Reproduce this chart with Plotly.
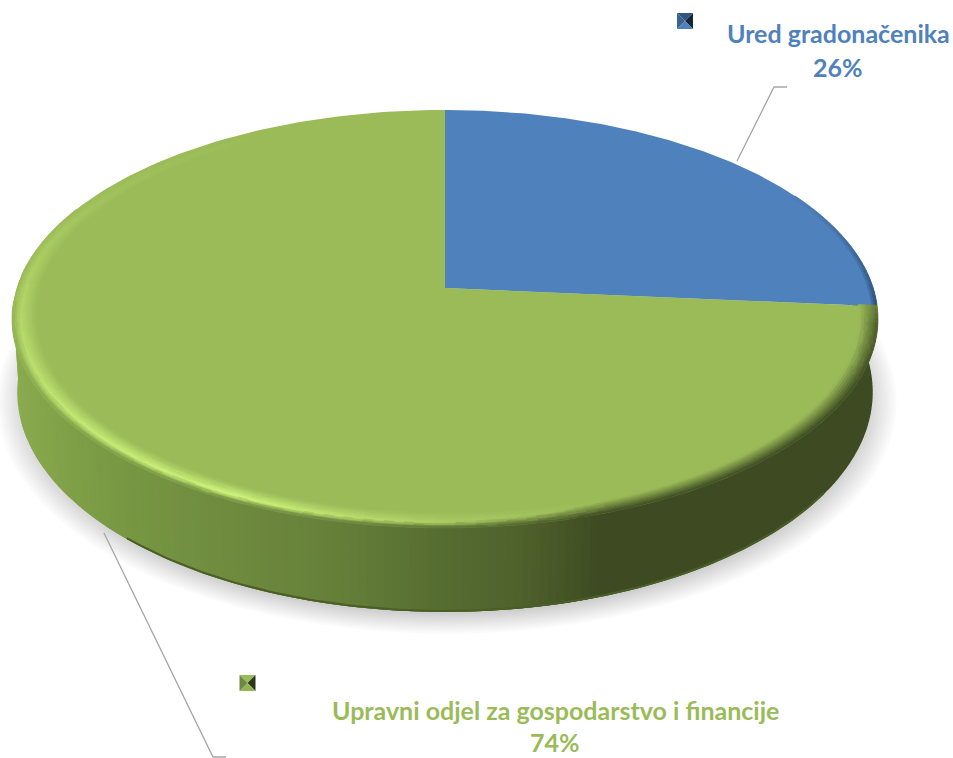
import numpy as np
import plotly.graph_objects as go

categories = ["Ured gradonačenika", "Upravni odjel za gospodarstvo i financije"]
values = [26.4, 73.6]
colors = ["#4f81bd", "#9bbb59"]

W, H = 953, 758
CX, CY = 445.0, 288.0
K, A, B = -0.1483, 204.4, 428.2
DEPTH = 71.5
RING = 0.945


def proj(r, th):
    u = r * np.sin(th)
    v = -r * np.cos(th)
    s = 1.0 / (1.0 + K * v)
    return CX + B * u * s, CY + A * v * s


def proj_bottom(r, th):
    x, y = proj(r, th)
    v = -r * np.cos(th)
    return CX + (x - CX) * 0.988, y + DEPTH / (1.0 + K * v)


def rgb(c):
    c = c.lstrip("#")
    return np.array([int(c[i:i + 2], 16) for i in (0, 2, 4)], float)


def lerp(a, b, t):
    return a + (b - a) * t


def css(c):
    c = np.round(np.clip(c, 0, 255))
    return "#%02x%02x%02x" % tuple(int(q) for q in c)


side_x = [0, 15, 100, 220, 340, 450, 520, 600, 953]
side_c = [rgb(c) for c in ["#8aaa4e", "#8aaa4e", "#7a9a44", "#6f8c3f", "#657f39", "#556b30", "#4f622c", "#3e4b22", "#3e4b22"]]


def side_color(x):
    return np.array([np.interp(x, side_x, [c[i] for c in side_c]) for i in range(3)])


groups = {}


def add_poly(col, xs, ys):
    g = groups.setdefault(col, ([], []))
    g[0].extend(list(xs) + [xs[0], None])
    g[1].extend(list(ys) + [ys[0], None])


fig = go.Figure()


def poly_trace(xs, ys, fill, line=None, lw=0.0):
    fig.add_trace(go.Scatter(x=xs, y=ys, mode="lines", fill="toself", fillcolor=fill,
                             line=dict(color=line or fill, width=lw), hoverinfo="skip", showlegend=False))


def flush(lw=0.7):
    for col, (xs, ys) in groups.items():
        poly_trace(xs, ys, col, col, lw)
    groups.clear()


# drop shadow below the disc
full = np.linspace(0, 2 * np.pi, 361)
for sc in np.linspace(1.05, 0.985, 12):
    x, y = proj_bottom(sc, full)
    poly_trace(list(x + 2), list(y + 7), "rgba(0,0,0,0.016)")

# outer wall: every slice overlaps the next so that no seam shows
n = 200
edges = np.radians(np.linspace(80, 280, n + 1))
for i in range(n):
    a = edges[i]
    b = edges[min(i + 3, n)]
    xa, ya = proj(1, a)
    xb, yb = proj(1, b)
    xc, yc = proj_bottom(1, b)
    xd, yd = proj_bottom(1, a)
    xm, _ = proj(1, (edges[i] + edges[i + 1]) / 2)
    add_poly(css(side_color(xm)), [xa, xb, xc, xd], [ya, yb, yc, yd])
flush(0)

# dark lower lip of the wall
th = np.radians(np.linspace(125, 222, 120))
xo, yo = proj_bottom(1, th)
fig.add_trace(go.Scatter(x=list(xo), y=list(yo - 1.0), mode="lines", line=dict(color="#4a5e26", width=2),
                         hoverinfo="skip", showlegend=False))

# top face, split by the shares
share = np.cumsum([0] + values) / sum(values) * 2 * np.pi
for i, col in enumerate(colors):
    th = np.linspace(share[i], share[i + 1], 240)
    x, y = proj(1, th)
    poly_trace([CX] + list(x), [CY] + list(y), col)

# bevelled rim
hl = rgb("#cdf27a")
i_th = [0, 160, 180, 205, 235, 270, 300, 330, 360]
i_v = [0, 0, 0.3, 1.0, 0.8, 0.42, 0.12, 0.02, 0]
o_th = [0, 84, 100, 115, 250, 268, 280, 360]
o_v = [0, 0, 0.85, 1, 1, 0.25, 0, 0]
b_th = [0, 60, 85, 96, 360]
b_v = [0, 0, 0.5, 0.75, 0.75]
navy = rgb("#1c3556")
green = rgb(colors[1])
blue = rgb(colors[0])
m_a, m_r = 300, 9
angs = np.linspace(0, 360, m_a + 1)
rs = np.linspace(RING, 1.0, m_r + 1)
for a0, a1 in zip(angs[:-1], angs[1:]):
    mid = (a0 + a1) / 2
    in_blue = np.radians(mid) < share[1]
    base = blue if in_blue else green
    I = 0.0 if in_blue else np.interp(mid, i_th, i_v)
    hi = lerp(base, hl, I)
    peak = 0.72 if in_blue else 0.25 + 0.37 * min(1.0, I / 0.3)
    xm, _ = proj(1, np.radians(mid))
    if in_blue:
        outer = lerp(base, navy, np.interp(mid, b_th, b_v))
    else:
        outer = lerp(base, side_color(xm), np.interp(mid, o_th, o_v))
    for j in range(m_r):
        t = (j + 0.5) / m_r
        c = lerp(base, hi, t / peak) if t < peak else lerp(hi, outer, (t - peak) / (1 - peak))
        if np.allclose(c, base, atol=1.0):
            continue
        ra, rb = rs[j], rs[j + 1]
        aa, ab = np.radians(a0), np.radians(a1)
        x1, y1 = proj(ra, aa)
        x2, y2 = proj(ra, ab)
        x3, y3 = proj(rb, ab)
        x4, y4 = proj(rb, aa)
        add_poly(css(np.round(c / 2) * 2), [x1, x2, x3, x4], [y1, y2, y3, y4])
flush()

# leader lines
leaders = [([737, 774, 787], [161, 87, 87]), ([104, 213, 226], [533, 757, 757])]
for lx, ly in leaders:
    fig.add_trace(go.Scatter(x=lx, y=ly, mode="lines", line=dict(color="#a6a6a6", width=1.3),
                             hoverinfo="skip", showlegend=False))


# pyramid legend keys
def key(x0, y0, s, tones):
    mx, my = x0 + s / 2, y0 + s / 2
    corners = [(x0, y0), (x0 + s, y0), (x0 + s, y0 + s), (x0, y0 + s)]
    for k, tone in enumerate(tones):
        p, q = corners[k], corners[(k + 1) % 4]
        poly_trace([p[0], q[0], mx], [p[1], q[1], my], tone)


key(677, 13, 16, ["#335680", "#14263a", "#4f81bd", "#3a6292"])
key(239.5, 675, 16, ["#9bbb59", "#2a3619", "#93b354", "#6c8740"])

# labels
total = sum(values)
labels = [
    (categories[0], "%.0f%%" % (values[0] / total * 100), 838, 33, 67, colors[0]),
    (categories[1], "%.0f%%" % (values[1] / total * 100), 555, 710, 742, colors[1]),
]
ann = []
for name, pct, x, y1, y2, col in labels:
    for txt, yy in ((name, y1), (pct, y2)):
        ann.append(dict(x=x, y=yy, text="<b>%s</b>" % txt, showarrow=False, xanchor="center", yanchor="middle",
                        font=dict(family="Lato", size=25, color=col)))

fig.update_layout(
    width=W, height=H, margin=dict(l=0, r=0, t=0, b=0), showlegend=False,
    paper_bgcolor="white", plot_bgcolor="white", annotations=ann,
    xaxis=dict(range=[0, W], visible=False, fixedrange=True),
    yaxis=dict(range=[H, 0], visible=False, fixedrange=True),
)
fig.write_html("out.html", config={"displayModeBar": False},
               post_script="document.body.style.margin='0';document.body.style.overflow='hidden';")
